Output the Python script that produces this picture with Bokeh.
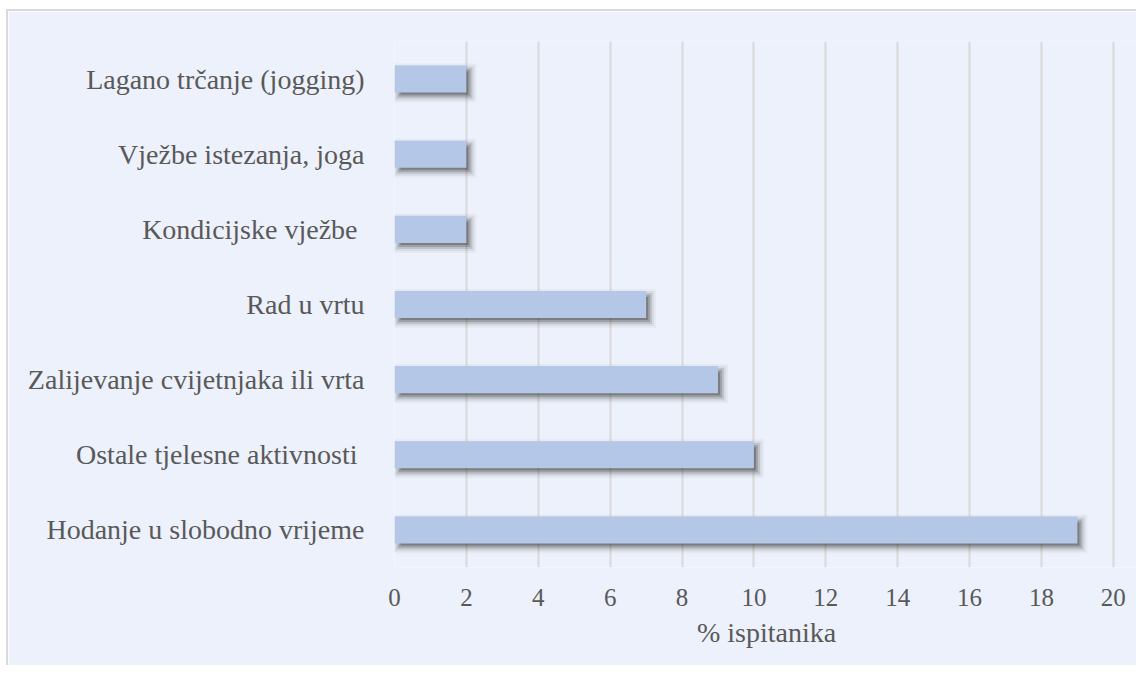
from bokeh.plotting import figure
from bokeh.models import ColumnDataSource, Range1d, FixedTicker, Spacer
from bokeh.layouts import column, row
from bokeh.transform import dodge
from bokeh.embed import file_html
from bokeh.resources import INLINE

categories = [
    "Hodanje u slobodno vrijeme",
    "Ostale tjelesne aktivnosti ",
    "Zalijevanje cvijetnjaka ili vrta",
    "Rad u vrtu",
    "Kondicijske vježbe ",
    "Vježbe istezanja, joga",
    "Lagano trčanje (jogging)",
]
values = [19, 10, 9, 7, 2, 2, 2]
x_ticks = [0, 2, 4, 6, 8, 10, 12, 14, 16, 18, 20]
x_title = "% ispitanika"

BG = "#ECF1FC"
TXT = "#595959"
FONT = "Liberation Serif"

src = ColumnDataSource(dict(cat=categories, val=values))

p = figure(
    width=1130, height=656,
    y_range=categories,
    x_range=Range1d(0, 20.7),
    output_backend="svg", toolbar_location=None,
    min_border_left=386, min_border_right=0,
    min_border_top=30, min_border_bottom=100,
)
p.background_fill_color = BG
p.border_fill_color = BG
p.outline_line_color = None
p.styles = {"border-top": "2px solid #DADADA", "border-left": "2px solid #DADADA"}

# soft shadow layers (offset ~4px right/down, blurred)
PX_X = 1 / 36.0
PX_Y = 1 / 75.0
for e, a in [(-2, 0.30), (0, 0.22), (2, 0.14), (4, 0.08), (6, 0.04)]:
    p.hbar(y=dodge("cat", -4 * PX_Y, range=p.y_range),
           left=4 * PX_X - e * PX_X,
           right=dodge("val", 4 * PX_X + e * PX_X),
           height=0.36 + 2 * e * PX_Y, source=src,
           fill_color="#2E2E2E", fill_alpha=a, line_color=None)

p.hbar(y="cat", left=0, right="val", height=0.36, source=src,
       fill_color="#B4C7E7", line_color=None)

p.xaxis.ticker = FixedTicker(ticks=x_ticks)
p.xgrid.grid_line_color = "#D9D9D9"
p.xgrid.grid_line_width = 2
p.ygrid.grid_line_color = None

for ax in (p.xaxis[0], p.yaxis[0]):
    ax.axis_line_color = None
    ax.major_tick_line_color = None
    ax.minor_tick_line_color = None
    ax.major_label_text_color = TXT
    ax.major_label_text_font = FONT

p.xaxis.major_label_text_font_size = "25px"
p.xaxis.major_label_standoff = 15
p.yaxis.major_label_text_font_size = "28px"
p.yaxis.major_label_standoff = 24

p.xaxis.axis_label = x_title
p.xaxis.axis_label_text_font = FONT
p.xaxis.axis_label_text_font_size = "28px"
p.xaxis.axis_label_text_font_style = "normal"
p.xaxis.axis_label_text_color = TXT
p.xaxis.axis_label_standoff = 8

layout = row(Spacer(width=6), column(Spacer(height=9), p))
open("out.html", "w").write(file_html(layout, INLINE))
